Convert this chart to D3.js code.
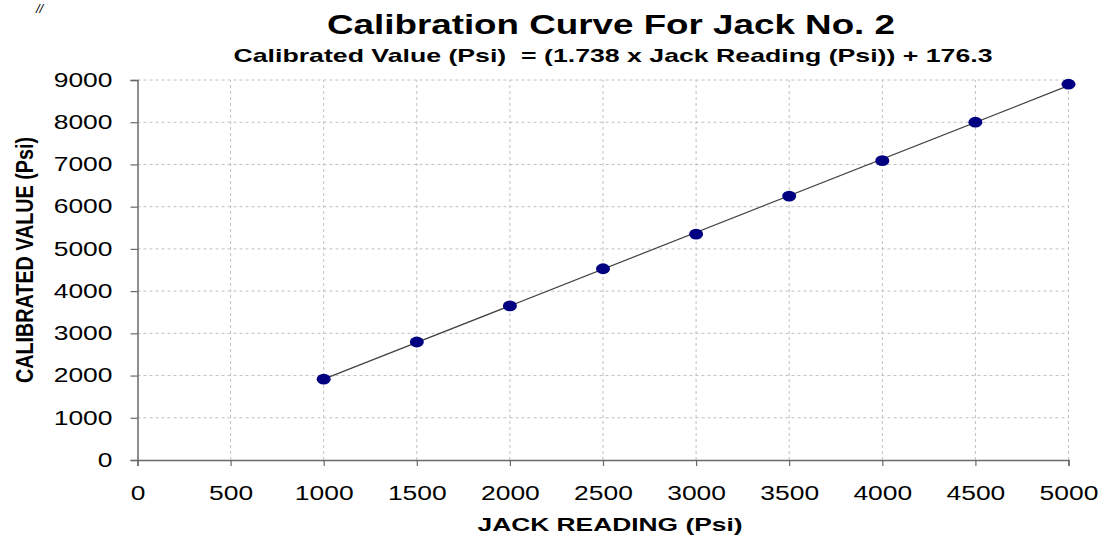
<!DOCTYPE html>
<html>
<head>
<meta charset="utf-8">
<script src="https://cdn.jsdelivr.net/npm/d3@7"></script>
<style>
  html, body { margin: 0; padding: 0; background: #fff; }
  svg { display: block; font-family: "Liberation Sans", Arial, sans-serif; }
</style>
</head>
<body>
<svg id="chart" width="1102" height="535"></svg>
<script>
// ---- data ----
const jackReading = [1000, 1500, 2000, 2500, 3000, 3500, 4000, 4500, 5000];
const calibratedValue = [1914, 2795, 3650, 4530, 5350, 6250, 7090, 8000, 8900];
const trendSlope = 1.738;
const trendIntercept = 176.3;
const xTicks = [0, 500, 1000, 1500, 2000, 2500, 3000, 3500, 4000, 4500, 5000];
const yTicks = [0, 1000, 2000, 3000, 4000, 5000, 6000, 7000, 8000, 9000];
const titleText = "Calibration Curve For Jack No. 2";
const subtitleText = "Calibrated Value (Psi)  = (1.738 x Jack Reading (Psi)) + 176.3";
const xLabel = "JACK READING (Psi)";
const yLabel = "CALIBRATED VALUE (Psi)";

const svg = d3.select("#chart");
const x = d3.scaleLinear().domain([0, 5000]).range([137.5, 1068.5]);
const y = d3.scaleLinear().domain([0, 9000]).range([460, 80]);

// grid
const grid = svg.append("g");
grid.selectAll("line.h").data(yTicks.filter(d => d > 0)).join("line")
  .attr("x1", x(0)).attr("x2", x(5000))
  .attr("y1", d => y(d)).attr("y2", d => y(d))
  .attr("stroke", "#c0c0c0").attr("stroke-width", 1).attr("stroke-dasharray", "3,3");
grid.selectAll("line.v").data(xTicks.filter(d => d > 0)).join("line")
  .attr("x1", d => x(d)).attr("x2", d => x(d))
  .attr("y1", y(0)).attr("y2", y(9000))
  .attr("stroke", "#c0c0c0").attr("stroke-width", 1).attr("stroke-dasharray", "3,3");

// axes
const digitW = 14.7;
const xAxis = d3.axisBottom(x).tickValues(xTicks).tickSize(6).tickPadding(20).tickFormat(d3.format("d"));
const gx = svg.append("g").attr("transform", `translate(0,${y(0)})`).call(xAxis);
const yAxis = d3.axisLeft(y).tickValues(yTicks).tickSize(7).tickPadding(18).tickFormat(d3.format("d"));
const gy = svg.append("g").attr("transform", `translate(${x(0)},0)`).call(yAxis);
[gx, gy].forEach(g => {
  g.select(".domain").attr("stroke", "#6a6a6a").attr("stroke-width", 1.5);
  g.selectAll(".tick line").attr("stroke", "#6a6a6a").attr("stroke-width", 1.2);
  g.selectAll(".tick text")
    .attr("font-family", "'Liberation Sans', Arial, sans-serif")
    .attr("font-size", 19.5).attr("fill", "#000")
    .attr("textLength", d => String(d).length * digitW)
    .attr("lengthAdjust", "spacingAndGlyphs");
});
gx.selectAll(".tick text").attr("dy", "0.71em");

// trend line
const trend = d3.line().x(d => x(d)).y(d => y(trendSlope * d + trendIntercept));
svg.append("path")
  .datum([d3.min(jackReading), d3.max(jackReading)])
  .attr("d", trend).attr("fill", "none").attr("stroke", "#404040").attr("stroke-width", 1.2);

// points
svg.append("g").selectAll("ellipse").data(jackReading).join("ellipse")
  .attr("cx", d => x(d)).attr("cy", (d, i) => y(calibratedValue[i]))
  .attr("rx", 7).attr("ry", 5.4).attr("fill", "#000080");

// titles
svg.append("text").attr("x", 611).attr("y", 34).attr("text-anchor", "middle")
  .attr("font-size", 27).attr("font-weight", "bold").attr("fill", "#000")
  .attr("textLength", 568).attr("lengthAdjust", "spacingAndGlyphs").text(titleText);
svg.append("text").attr("x", 613).attr("y", 62).attr("text-anchor", "middle")
  .style("white-space", "pre")
  .attr("font-size", 19).attr("font-weight", "bold").attr("fill", "#000")
  .attr("textLength", 759).attr("lengthAdjust", "spacingAndGlyphs").text(subtitleText);
svg.append("text").attr("x", 610).attr("y", 531).attr("text-anchor", "middle")
  .attr("font-size", 19).attr("font-weight", "bold").attr("fill", "#000")
  .attr("textLength", 265).attr("lengthAdjust", "spacingAndGlyphs").text(xLabel);
svg.append("text").attr("transform", "translate(33,260) rotate(-90)").attr("text-anchor", "middle")
  .attr("font-size", 23).attr("font-weight", "bold").attr("fill", "#000")
  .attr("textLength", 246).attr("lengthAdjust", "spacingAndGlyphs").text(yLabel);
// stray mark at top-left
svg.append("text").attr("x", 36).attr("y", 13).attr("font-size", 13).attr("font-style", "italic")
  .attr("fill", "#000").text("//");
</script>
</body>
</html>
